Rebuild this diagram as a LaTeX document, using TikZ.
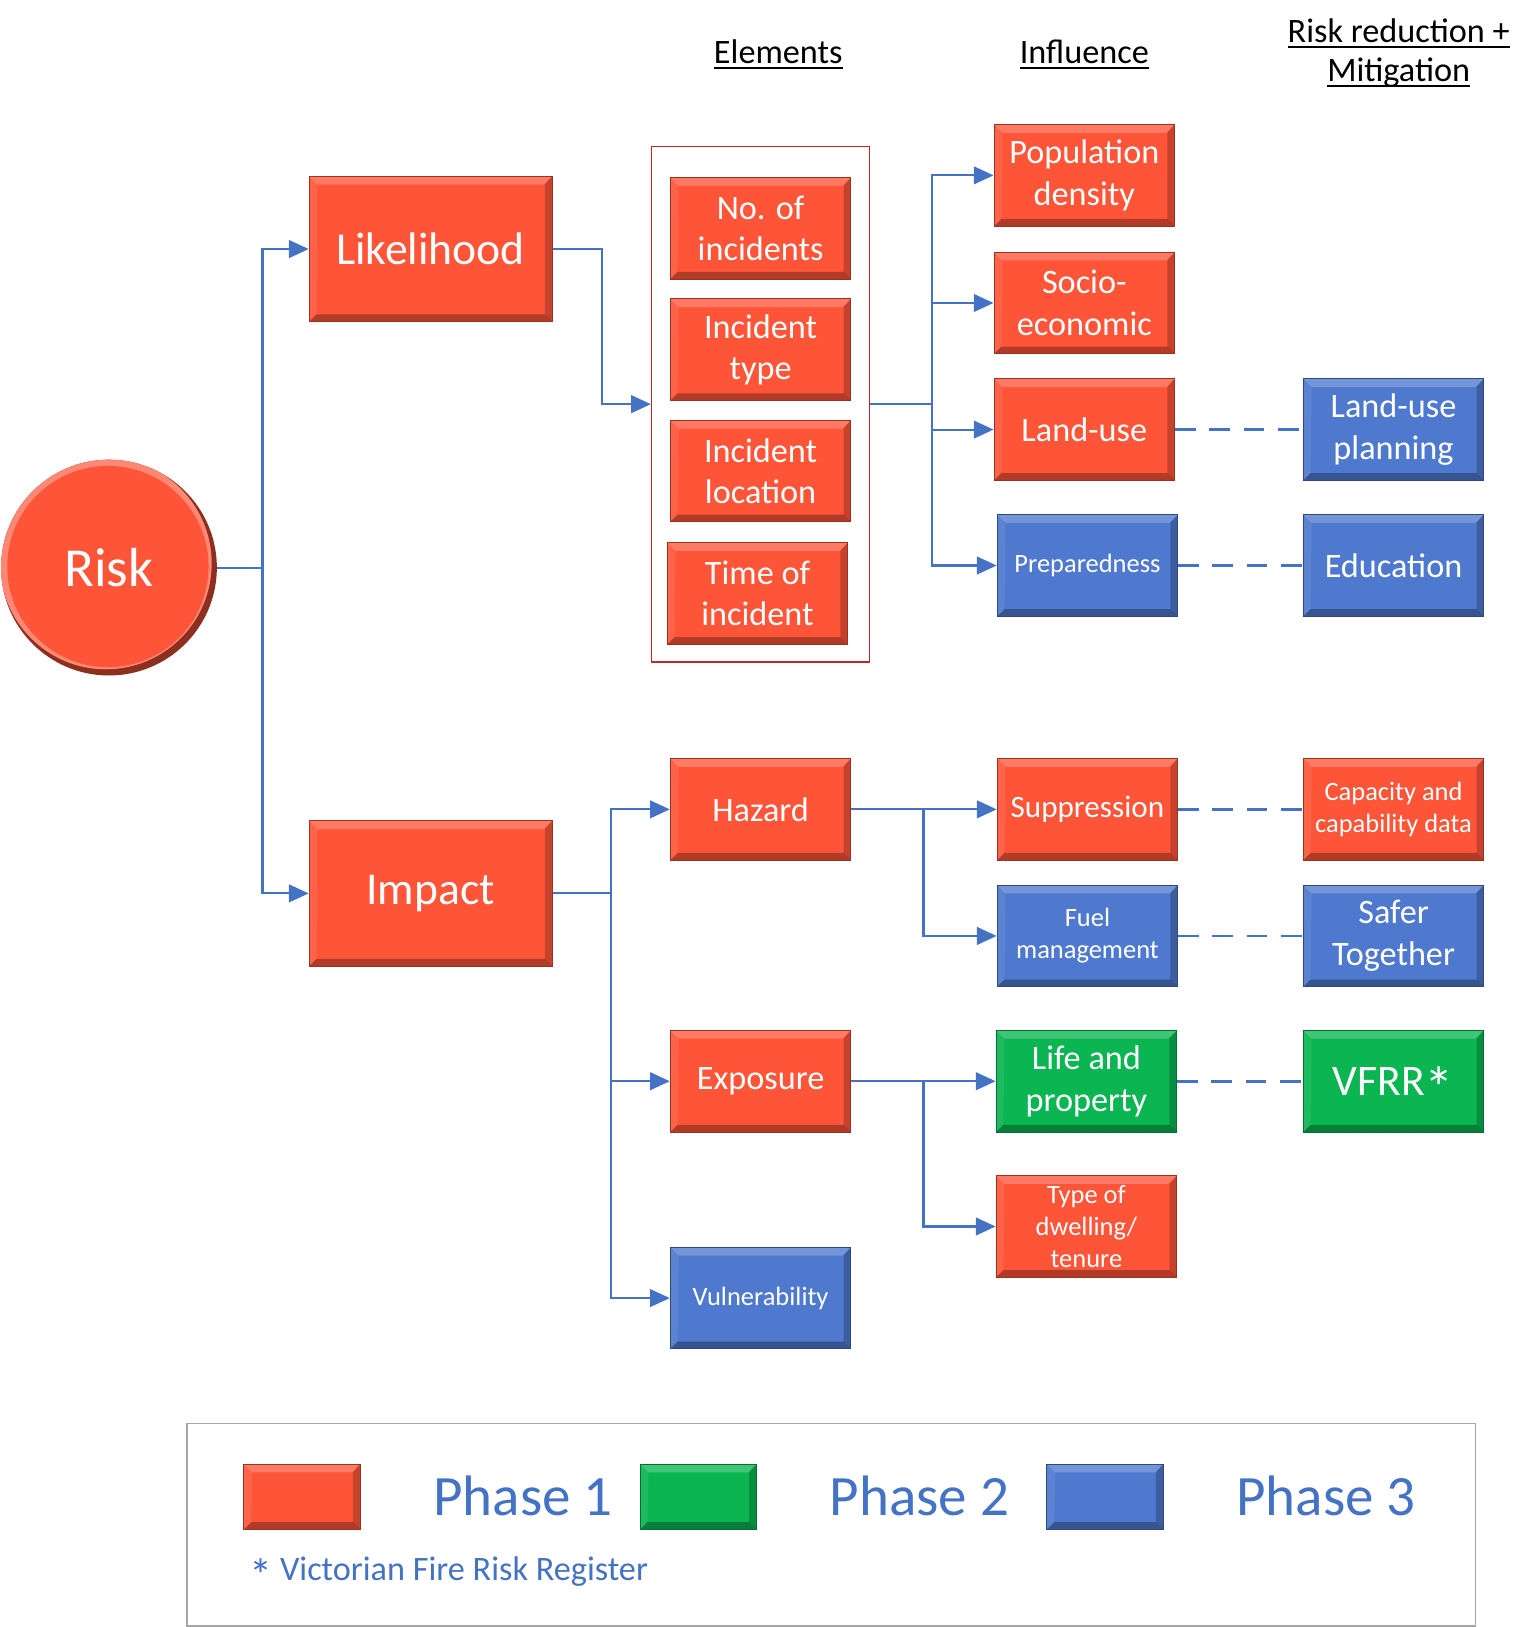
\documentclass[tikz,border=0pt]{standalone}
\usepackage{fontspec}
\setmainfont{Carlito}
\usetikzlibrary{arrows.meta}
\definecolor{cred}{HTML}{FE5539}
\definecolor{cgreen}{HTML}{0BB552}
\definecolor{cblue}{HTML}{4E79CF}
\definecolor{cline}{HTML}{4472C4}
\definecolor{cframe}{HTML}{C0272D}
\definecolor{clegend}{HTML}{A6A6A6}
\newcommand{\bigast}{\raisebox{-0.3em}[0pt][0pt]{\scalebox{1.35}{*}}}
\tikzset{
 bev/.style={path picture={
  \coordinate (bnw) at (path picture bounding box.north west);
  \coordinate (bne) at (path picture bounding box.north east);
  \coordinate (bsw) at (path picture bounding box.south west);
  \coordinate (bse) at (path picture bounding box.south east);
  \fill[white,opacity=.22] (bnw) -- (bne) -- ([shift={(-8pt,-8pt)}]bne) -- ([shift={(8pt,-8pt)}]bnw) -- cycle;
  \fill[black,opacity=.30] (bsw) -- (bse) -- ([shift={(-7pt,7pt)}]bse) -- ([shift={(7pt,7pt)}]bsw) -- cycle;
  \fill[black,opacity=.22] (bne) -- (bse) -- ([shift={(-7pt,7pt)}]bse) -- ([shift={(-7pt,-8pt)}]bne) -- cycle;
  \fill[white,opacity=.08] (bnw) -- (bsw) -- ([shift={(7pt,7pt)}]bsw) -- ([shift={(8pt,-8pt)}]bnw) -- cycle;
 }},
 box/.style={rectangle, minimum width=174pt, minimum height=98pt, inner sep=0pt,
   align=center, text=white, font=\fontsize{33}{40}\selectfont, bev, line width=1pt},
 rbox/.style={box, fill=cred, draw=cred!60!black},
 bbox/.style={box, fill=cblue, draw=cblue!60!black},
 gbox/.style={box, fill=cgreen, draw=cgreen!60!black},
 bigbox/.style={minimum width=234pt, minimum height=140pt, font=\fontsize{44}{52}\selectfont},
 smalltxt/.style={font=\fontsize{25.5}{31}\selectfont},
 conn/.style={draw=cline, line width=2pt},
 arr/.style={draw=cline, line width=2pt, -{Triangle[length=19pt,width=17pt]}},
 dashlink/.style={draw=cline, line width=2.5pt, dash pattern=on 20pt off 13pt},
 hdr/.style={inner sep=0pt, font=\fontsize{33}{40}\selectfont, text=black},
 swatch/.style={rectangle, minimum width=112pt, minimum height=63pt, inner sep=0pt, bev, line width=1pt},
 phase/.style={inner sep=0pt, text=cline, font=\fontsize{55}{66}\selectfont},
}
\begin{document}
\begin{tikzpicture}[x=1pt,y=-1pt]
\useasboundingbox (0,0) rectangle (1480,1568);

% headers
\node[hdr] (hel) at (750,50) {Elements};
\node[hdr] (hin) at (1045,50) {Influence};
\node[hdr] (hrr) at (1348,30) {Risk reduction +};
\node[hdr] (hmi) at (1348,70) {Mitigation};
\foreach \h in {hel,hin,hrr,hmi}{
  \draw[line width=1.8pt] ([yshift=-4pt]\h.base west) -- ([yshift=-4pt]\h.base east);
}

% risk circle
\node[circle, minimum size=208pt, inner sep=0pt, text=white, font=\fontsize{53}{60}\selectfont,
  path picture={
   \coordinate (cc) at (path picture bounding box.center);
   \fill[cred!55!black] (cc) circle (110pt);
   \fill[cred!70!white] ([shift={(-3pt,4pt)}]cc) circle (102pt);
   \fill[cred] ([shift={(-1pt,1pt)}]cc) circle (97pt);
  }] (risk) at (105,547) {Risk};

% main boxes
\node[rbox, bigbox] (lik) at (415,240) {Likelihood};
\node[rbox, bigbox] (imp) at (415,861) {Impact};

% elements frame
\node[draw=cframe, line width=1.5pt, minimum width=210pt, minimum height=497pt, inner sep=0pt] (frame) at (733,389.5) {};
\node[rbox] (nof) at (733,220) {No. of\\incidents};
\node[rbox] (ityp) at (733,337) {Incident\\type};
\node[rbox] (iloc) at (733,454) {Incident\\location};
\node[rbox] (itim) at (730,572) {Time of\\incident};

% influence (top)
\node[rbox] (pop) at (1045,169) {Population\\density};
\node[rbox] (soc) at (1045,292) {Socio-\\economic};
\node[rbox] (land) at (1045,414) {Land-use};
\node[bbox, smalltxt] (prep) at (1048,545) {Preparedness};
\node[bbox] (lup) at (1343,414) {Land-use\\planning};
\node[bbox] (edu) at (1343,545) {Education};

% impact elements
\node[rbox] (haz) at (733,780) {Hazard};
\node[rbox] (expo) at (733,1042) {Exposure};
\node[bbox, smalltxt] (vul) at (733,1251) {Vulnerability};

% influence (bottom)
\node[rbox, font=\fontsize{30}{36}\selectfont] (sup) at (1048,780) {Suppression};
\node[bbox, smalltxt] (fuel) at (1048,902) {Fuel\\management};
\node[gbox] (life) at (1047,1042) {Life and\\property};
\node[rbox, smalltxt] (dwel) at (1047,1182) {Type of\\dwelling/\\tenure};

% mitigation (bottom)
\node[rbox, smalltxt] (cap) at (1343,780) {Capacity and\\capability data};
\node[bbox] (safe) at (1343,902) {Safer\\Together};
\node[gbox, font=\fontsize{42}{50}\selectfont] (vfrr) at (1343,1042) {VFRR\bigast};

% junction coordinates
\coordinate (rj) at (253,547);
\coordinate (lj) at (580,240);
\coordinate (fj) at (898,389.5);
\coordinate (ij) at (589,861);
\coordinate (hj) at (890,780);
\coordinate (ej) at (890,1042);

% connectors
\draw[conn] (risk.east) -- (rj);
\draw[arr] (rj) |- (lik.west);
\draw[arr] (rj) |- (imp.west);
\draw[arr] (lik.east) -- (lj) |- (frame.west);
\draw[conn] (frame.east) -- (fj);
\draw[arr] (fj) |- (pop.west);
\draw[arr] (fj) |- (soc.west);
\draw[arr] (fj) |- (land.west);
\draw[arr] (fj) |- (prep.west);
\draw[conn] (imp.east) -- (ij);
\draw[arr] (ij) |- (haz.west);
\draw[arr] (ij) |- (expo.west);
\draw[arr] (ij) |- (vul.west);
\draw[arr] (haz.east) -- (sup.west);
\draw[arr] (hj) |- (fuel.west);
\draw[arr] (expo.east) -- (life.west);
\draw[arr] (ej) |- (dwel.west);

% dashed links
\draw[dashlink] (land.east) -- (lup.west);
\draw[dashlink] (prep.east) -- (edu.west);
\draw[dashlink] (sup.east) -- (cap.west);
\draw[dashlink] (fuel.east) -- (safe.west);
\draw[dashlink] (life.east) -- (vfrr.west);

% legend
\node[draw=clegend, line width=1.5pt, minimum width=1242pt, minimum height=195pt, inner sep=0pt] (legend) at (801,1469.5) {};
\node[swatch, fill=cred, draw=cred!60!black] (sw1) at (291,1442.5) {};
\node[swatch, fill=cgreen, draw=cgreen!60!black] (sw2) at (673,1442.5) {};
\node[swatch, fill=cblue, draw=cblue!60!black] (sw3) at (1065,1442.5) {};
\node[phase] (ph1) at (504,1442) {Phase 1};
\node[phase] (ph2) at (886,1442) {Phase 2};
\node[phase] (ph3) at (1278,1442) {Phase 3};
\node[inner sep=0pt, anchor=west, text=cline, font=\fontsize{33}{40}\selectfont] (note) at (240,1515) {\bigast{} Victorian Fire Risk Register};
\end{tikzpicture}
\end{document}
